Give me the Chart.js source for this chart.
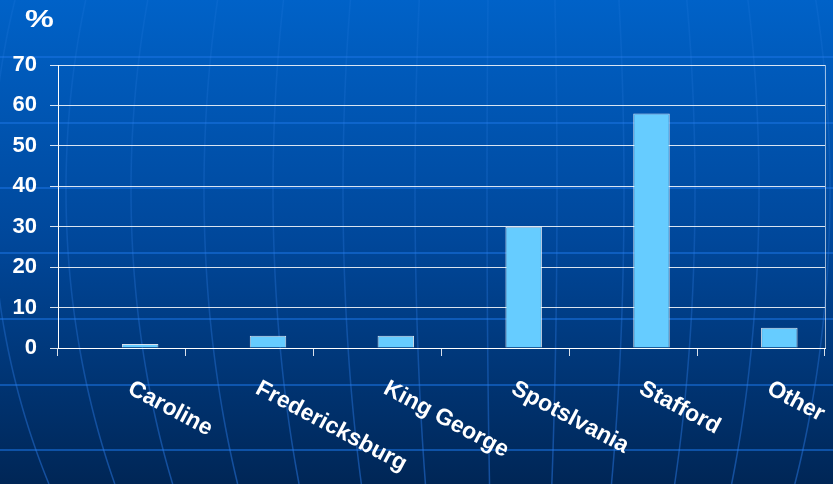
<!DOCTYPE html>
<html>
<head>
<meta charset="utf-8">
<script src="https://cdn.jsdelivr.net/npm/chart.js@4.4.1/dist/chart.umd.min.js"></script>
<style>
  html, body { margin: 0; padding: 0; background: #00408a; }
  canvas { display: block; }
</style>
</head>
<body>
<canvas id="areaChart" width="833" height="484"></canvas>
<script>
// chart data
const categories = ["Caroline", "Fredericksburg", "King George", "Spotslvania", "Stafford", "Other"];
const percentValues = [1, 3, 3, 30, 58, 5];
const blankSeries = [null, null, null, null, null, null]; // empty first series (keeps bars right of centre)
const yMin = 0;
const yMax = 70;
const yStep = 10;
const unitLabel = "%";

const FONT = "'Liberation Sans', Arial, sans-serif";

// background: blue gradient with a faint globe grid
const backgroundPlugin = {
    id: "slideBackground",
    beforeDraw(chart) {
        const ctx = chart.ctx;
        const w = chart.width, h = chart.height;
        ctx.save();
        let grad = ctx.createLinearGradient(0, 0, 0, h);
        grad.addColorStop(0, "#0062c8");
        grad.addColorStop(0.5, "#00479a");
        grad.addColorStop(1, "#002656");
        ctx.fillStyle = grad;
        ctx.fillRect(0, 0, w, h);

        // parallels
        ctx.strokeStyle = "rgba(25, 115, 225, 0.55)";
        ctx.lineWidth = 2;
        [57, 123, 188, 253, 319, 385, 450].forEach(y => {
            ctx.beginPath();
            ctx.moveTo(0, y);
            ctx.lineTo(w, y);
            ctx.stroke();
        });

        // meridians, fainter towards the top
        const cx = 510, cy = 190, R = 645;
        let lineGrad = ctx.createLinearGradient(0, 0, 0, h);
        lineGrad.addColorStop(0, "rgba(60, 140, 240, 0.12)");
        lineGrad.addColorStop(0.5, "rgba(50, 130, 235, 0.25)");
        lineGrad.addColorStop(1, "rgba(40, 120, 230, 0.5)");
        ctx.strokeStyle = lineGrad;
        ctx.lineWidth = 1.5;
        [-590, -518, -444, -379, -306, -237, -167, -95, -23, 47, 114, 185, 249, 320, 392].forEach(k => {
            ctx.beginPath();
            for (let y = 0; y <= h; y += 4) {
                let t = (y - cy) / R;
                let x = cx + k * Math.sqrt(Math.max(0, 1 - t * t));
                if (y === 0) ctx.moveTo(x, y); else ctx.lineTo(x, y);
            }
            ctx.stroke();
        });
        ctx.restore();
    }
};

// rotated category labels, unit label and right border of the plot area
const labelsPlugin = {
    id: "slideLabels",
    afterDraw(chart) {
        const ctx = chart.ctx;
        const area = chart.chartArea;
        const xScale = chart.scales.x;
        ctx.save();

        ctx.strokeStyle = "rgba(255, 255, 255, 0.6)";
        ctx.lineWidth = 1;
        ctx.beginPath();
        ctx.moveTo(area.right + 0.5, area.top);
        ctx.lineTo(area.right + 0.5, area.bottom);
        ctx.stroke();

        ctx.fillStyle = "#ffffff";
        ctx.font = "bold 23px " + FONT;
        ctx.textAlign = "left";
        ctx.textBaseline = "top";
        chart.data.labels.forEach((label, i) => {
            let x = xScale.getPixelForValue(i) + 13;
            ctx.save();
            ctx.translate(x, 377);
            ctx.rotate(28 * Math.PI / 180);
            ctx.fillText(label, 0, 0);
            ctx.restore();
        });

        ctx.save();
        ctx.translate(25, 8);
        ctx.scale(1.35, 1);
        ctx.font = "bold 24px " + FONT;
        ctx.fillText(unitLabel, 0, 0);
        ctx.restore();

        ctx.restore();
    }
};

document.addEventListener("DOMContentLoaded", function () {
    let ctx = document.getElementById("areaChart").getContext("2d");

    window.myChart = new Chart(ctx, {
        type: "bar",
        data: {
            labels: categories,
            datasets: [
                {
                    label: "blank",
                    data: blankSeries,
                    backgroundColor: "rgba(0,0,0,0)"
                },
                {
                    label: unitLabel,
                    data: percentValues,
                    backgroundColor: "#66ccff",
                    borderColor: "rgba(255, 255, 255, 0.85)",
                    borderWidth: 1
                }
            ]
        },
        options: {
            responsive: false,
            animation: false,
            devicePixelRatio: 1,
            categoryPercentage: 0.571,
            barPercentage: 1,
            layout: { padding: { top: 65, right: 8, left: 0, bottom: 0 } },
            plugins: {
                legend: { display: false },
                tooltip: { enabled: false }
            },
            scales: {
                x: {
                    grid: {
                        drawOnChartArea: false,
                        drawTicks: true,
                        tickLength: 8,
                        offset: true,
                        color: "rgba(255, 255, 255, 0.85)"
                    },
                    border: { color: "#ffffff", width: 1 },
                    ticks: { display: false },
                    afterFit: function (scale) { scale.height = 136; }
                },
                y: {
                    min: yMin,
                    max: yMax,
                    ticks: {
                        stepSize: yStep,
                        color: "#ffffff",
                        padding: 13,
                        font: { family: FONT, size: 22, weight: "bold" }
                    },
                    grid: {
                        color: "rgba(255, 255, 255, 0.85)",
                        tickLength: 8
                    },
                    border: { color: "#ffffff", width: 1 },
                    afterFit: function (scale) { scale.width = 58; }
                }
            }
        },
        plugins: [backgroundPlugin, labelsPlugin]
    });
});
</script>
</body>
</html>
